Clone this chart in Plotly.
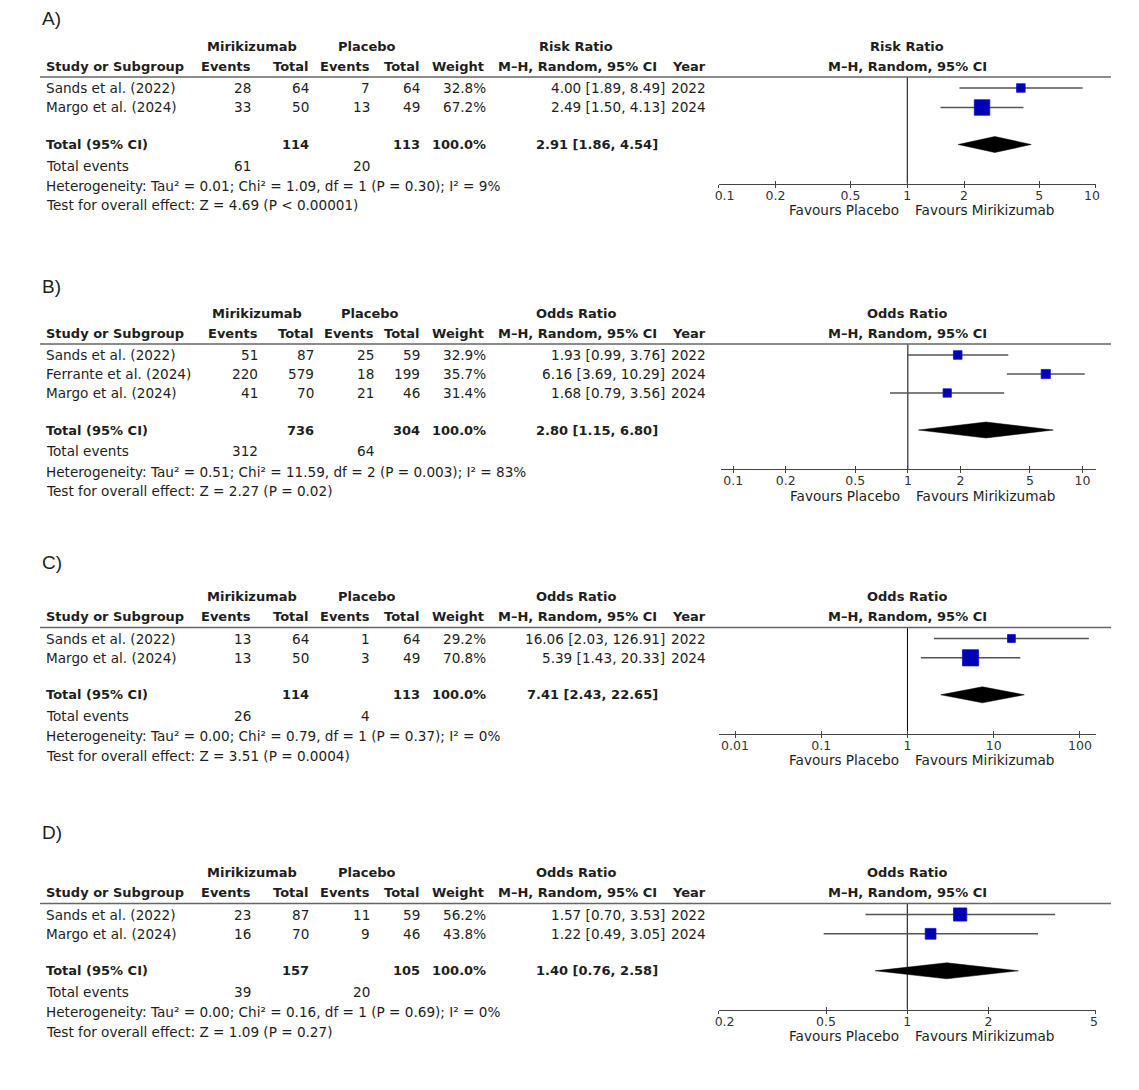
import plotly.graph_objects as go

# Geometry is written in the reference picture's pixels and mapped onto the page.
PAGE_OFF = 8                   # default body margin of the written page
PIC_X0, PIC_SX = 16.2, 0.9742  # observed page-x -> picture-x mapping
W, H = 1123, 1074
FONT = "DejaVu Sans"
TXT = "#1e1e1e"

# ---------------- Data: Panel A ----------------
A_label = "A)"
A_measure = "Risk Ratio"
A_study = ["Sands et al. (2022)", "Margo et al. (2024)"]
A_mir_ev = [28, 33]
A_mir_tot = [64, 50]
A_pla_ev = [7, 13]
A_pla_tot = [64, 49]
A_weight = [32.8, 67.2]
A_est = [4.00, 2.49]
A_lo = [1.89, 1.50]
A_hi = [8.49, 4.13]
A_year = [2022, 2024]
A_total_n = [114, 113]
A_total_ev = [61, 20]
A_pooled = [2.91, 1.86, 4.54]
A_het = "Heterogeneity: Tau² = 0.01; Chi² = 1.09, df = 1 (P = 0.30); I² = 9%"
A_test = "Test for overall effect: Z = 4.69 (P < 0.00001)"
A_ticks = [0.1, 0.2, 0.5, 1, 2, 5, 10]
A_tick_text = ["0.1", "0.2", "0.5", "1", "2", "5", "10"]

# ---------------- Data: Panel B ----------------
B_label = "B)"
B_measure = "Odds Ratio"
B_study = ["Sands et al. (2022)", "Ferrante et al. (2024)", "Margo et al. (2024)"]
B_mir_ev = [51, 220, 41]
B_mir_tot = [87, 579, 70]
B_pla_ev = [25, 18, 21]
B_pla_tot = [59, 199, 46]
B_weight = [32.9, 35.7, 31.4]
B_est = [1.93, 6.16, 1.68]
B_lo = [0.99, 3.69, 0.79]
B_hi = [3.76, 10.29, 3.56]
B_year = [2022, 2024, 2024]
B_total_n = [736, 304]
B_total_ev = [312, 64]
B_pooled = [2.80, 1.15, 6.80]
B_het = "Heterogeneity: Tau² = 0.51; Chi² = 11.59, df = 2 (P = 0.003); I² = 83%"
B_test = "Test for overall effect: Z = 2.27 (P = 0.02)"
B_ticks = [0.1, 0.2, 0.5, 1, 2, 5, 10]
B_tick_text = ["0.1", "0.2", "0.5", "1", "2", "5", "10"]

# ---------------- Data: Panel C ----------------
C_label = "C)"
C_measure = "Odds Ratio"
C_study = ["Sands et al. (2022)", "Margo et al. (2024)"]
C_mir_ev = [13, 13]
C_mir_tot = [64, 50]
C_pla_ev = [1, 3]
C_pla_tot = [64, 49]
C_weight = [29.2, 70.8]
C_est = [16.06, 5.39]
C_lo = [2.03, 1.43]
C_hi = [126.91, 20.33]
C_year = [2022, 2024]
C_total_n = [114, 113]
C_total_ev = [26, 4]
C_pooled = [7.41, 2.43, 22.65]
C_het = "Heterogeneity: Tau² = 0.00; Chi² = 0.79, df = 1 (P = 0.37); I² = 0%"
C_test = "Test for overall effect: Z = 3.51 (P = 0.0004)"
C_ticks = [0.01, 0.1, 1, 10, 100]
C_tick_text = ["0.01", "0.1", "1", "10", "100"]

# ---------------- Data: Panel D ----------------
D_label = "D)"
D_measure = "Odds Ratio"
D_study = ["Sands et al. (2022)", "Margo et al. (2024)"]
D_mir_ev = [23, 16]
D_mir_tot = [87, 70]
D_pla_ev = [11, 9]
D_pla_tot = [59, 46]
D_weight = [56.2, 43.8]
D_est = [1.57, 1.22]
D_lo = [0.70, 0.49]
D_hi = [3.53, 3.05]
D_year = [2022, 2024]
D_total_n = [157, 105]
D_total_ev = [39, 20]
D_pooled = [1.40, 0.76, 2.58]
D_het = "Heterogeneity: Tau² = 0.00; Chi² = 0.16, df = 1 (P = 0.69); I² = 0%"
D_test = "Test for overall effect: Z = 1.09 (P = 0.27)"
D_ticks = [0.2, 0.5, 1, 2, 5]
D_tick_text = ["0.2", "0.5", "1", "2", "5"]

panels = [
    dict(label=A_label, measure=A_measure, study=A_study, mir_ev=A_mir_ev, mir_tot=A_mir_tot,
         pla_ev=A_pla_ev, pla_tot=A_pla_tot, weight=A_weight, est=A_est, lo=A_lo, hi=A_hi,
         year=A_year, total_n=A_total_n, total_ev=A_total_ev, pooled=A_pooled, het=A_het,
         test=A_test, ticks=A_ticks, tick_text=A_tick_text),
    dict(label=B_label, measure=B_measure, study=B_study, mir_ev=B_mir_ev, mir_tot=B_mir_tot,
         pla_ev=B_pla_ev, pla_tot=B_pla_tot, weight=B_weight, est=B_est, lo=B_lo, hi=B_hi,
         year=B_year, total_n=B_total_n, total_ev=B_total_ev, pooled=B_pooled, het=B_het,
         test=B_test, ticks=B_ticks, tick_text=B_tick_text),
    dict(label=C_label, measure=C_measure, study=C_study, mir_ev=C_mir_ev, mir_tot=C_mir_tot,
         pla_ev=C_pla_ev, pla_tot=C_pla_tot, weight=C_weight, est=C_est, lo=C_lo, hi=C_hi,
         year=C_year, total_n=C_total_n, total_ev=C_total_ev, pooled=C_pooled, het=C_het,
         test=C_test, ticks=C_ticks, tick_text=C_tick_text),
    dict(label=D_label, measure=D_measure, study=D_study, mir_ev=D_mir_ev, mir_tot=D_mir_tot,
         pla_ev=D_pla_ev, pla_tot=D_pla_tot, weight=D_weight, est=D_est, lo=D_lo, hi=D_hi,
         year=D_year, total_n=D_total_n, total_ev=D_total_ev, pooled=D_pooled, het=D_het,
         test=D_test, ticks=D_ticks, tick_text=D_tick_text),
]

# ---------------- Layout (picture-pixel geometry, styles) ----------------
geo = [
    dict(label_y=18, first=88, step=19.5, xr=(-1.0, 1.0), dom=(718, 1095), cols="std", pad=("l", "r")),
    dict(label_y=286, first=355, step=19.0, xr=(-1.072, 1.077), dom=(720, 1095), cols="wide", pad=(None, None)),
    dict(label_y=562, first=638.5, step=19.3, xr=(-2.19, 2.186), dom=(718, 1095), cols="std", pad=(None, None)),
    dict(label_y=832, first=914.5, step=19.3, xr=(-0.69897, 0.69897), dom=(718, 1095), cols="std", pad=("l", "r")),
]
COLS = {
    "std": dict(mir_ev=253, mir_tot=311, pla_ev=372, pla_tot=421.5, mir_c=252, pla_c=367),
    "wide": dict(mir_ev=260, mir_tot=315.5, pla_ev=376, pla_tot=422, mir_c=257, pla_c=370),
}
FS = 13.6
FSB = 13
BLUE = "#0000B4"
GREY = "#555555"


def px(x):
    page_x = (x - PIC_X0) / PIC_SX
    return (page_x - PAGE_OFF) / W


def py(y):
    return 1 - (y - PAGE_OFF) / H


fig = go.Figure()
annotations = []
shapes = []


def txt(x, y, s, anchor="left", bold=False, size=None, color=TXT, family=FONT):
    if size is None:
        size = FSB if bold else FS
    if bold:
        s = "<b>" + s + "</b>"
    annotations.append(dict(x=px(x), y=py(y), xref="paper", yref="paper", text=s,
                            showarrow=False, xanchor=anchor, yanchor="middle",
                            font=dict(family=family, size=size, color=color)))


for k, (p, g) in enumerate(zip(panels, geo)):
    c = COLS[g["cols"]]
    n = len(p["study"])
    first = g["first"]
    rows = [first + g["step"] * i for i in range(n)]
    total_y = rows[-1] + 37
    tev_y = total_y + 21.5
    het_y = total_y + 41.5
    test_y = total_y + 61
    axis_y = total_y + 39
    h1 = first - 42
    h2 = first - 22
    line_y = first - 11

    # panel label
    txt(40, g["label_y"], p["label"], size=19, color="#222222", family="Liberation Sans")
    # headers
    txt(c["mir_c"], h1, "Mirikizumab", "center", True)
    txt(c["pla_c"], h1, "Placebo", "center", True)
    txt(576, h1, p["measure"], "center", True)
    txt(906.5, h1, p["measure"], "center", True)
    txt(44, h2, "Study or Subgroup", "left", True)
    txt(c["mir_ev"], h2, "Events", "right", True)
    txt(c["mir_tot"], h2, "Total", "right", True)
    txt(c["pla_ev"], h2, "Events", "right", True)
    txt(c["pla_tot"], h2, "Total", "right", True)
    txt(485.5, h2, "Weight", "right", True)
    txt(577, h2, "M\u2013H, Random, 95% CI", "center", True)
    txt(707, h2, "Year", "right", True)
    txt(906.5, h2, "M\u2013H, Random, 95% CI", "center", True)
    shapes.append(dict(type="line", xref="paper", yref="paper", x0=px(40), x1=px(1110),
                       y0=py(line_y), y1=py(line_y), line=dict(color="#666666", width=1.5)))

    # study rows
    for i in range(n):
        y = rows[i]
        txt(44, y, p["study"][i])
        txt(c["mir_ev"], y, str(p["mir_ev"][i]), "right")
        txt(c["mir_tot"], y, str(p["mir_tot"][i]), "right")
        txt(c["pla_ev"], y, str(p["pla_ev"][i]), "right")
        txt(c["pla_tot"], y, str(p["pla_tot"][i]), "right")
        txt(487.5, y, f"{p['weight'][i]:.1f}%", "right")
        txt(666.5, y, f"{p['est'][i]:.2f} [{p['lo'][i]:.2f}, {p['hi'][i]:.2f}]", "right")
        txt(707, y, str(p["year"][i]), "right")
    # total row
    txt(44, total_y, "Total (95% CI)", "left", True)
    txt(c["mir_tot"], total_y, str(p["total_n"][0]), "right", True)
    txt(c["pla_tot"], total_y, str(p["total_n"][1]), "right", True)
    txt(487.5, total_y, f"{sum(p['weight']):.1f}%", "right", True)
    pe, pl, ph = p["pooled"]
    txt(659, total_y, f"{pe:.2f} [{pl:.2f}, {ph:.2f}]", "right", True)
    txt(44, tev_y, "Total events")
    txt(c["mir_ev"], tev_y, str(p["total_ev"][0]), "right")
    txt(c["pla_ev"], tev_y, str(p["total_ev"][1]), "right")
    txt(44, het_y, p["het"])
    txt(44, test_y, p["test"])

    # ---- forest plot axes ----
    xa = "x" if k == 0 else f"x{k + 1}"
    ya = "y" if k == 0 else f"y{k + 1}"
    xo = f"x{k + 5}"
    ticktext = list(p["tick_text"])
    if g["pad"][0] == "l":
        ticktext[0] = "\u00a0" * 3 + ticktext[0]
    if g["pad"][1] == "r":
        ticktext[-1] = ticktext[-1] + "\u00a0" * (2 if len(ticktext[-1]) > 1 else 1)

    # null line
    fig.add_trace(go.Scatter(x=[1, 1], y=[axis_y, line_y], mode="lines",
                             line=dict(color="#000000", width=1), xaxis=xa, yaxis=ya,
                             hoverinfo="skip", showlegend=False))
    # CI lines
    cx, cy = [], []
    for i in range(n):
        cx += [p["lo"][i], p["hi"][i], None]
        cy += [rows[i], rows[i], None]
    fig.add_trace(go.Scatter(x=cx, y=cy, mode="lines", line=dict(color=GREY, width=1.5),
                             xaxis=xa, yaxis=ya, hoverinfo="skip", showlegend=False))
    # boxes (side length scales with study weight)
    fig.add_trace(go.Scatter(x=p["est"], y=rows, mode="markers", opacity=1,
                             marker=dict(symbol="square", color=BLUE, opacity=1,
                                         size=[2 + 0.2 * w for w in p["weight"]],
                                         line=dict(color="#1010C8", width=0.8)),
                             xaxis=xa, yaxis=ya, hoverinfo="skip", showlegend=False))
    # pooled diamond
    fig.add_trace(go.Scatter(x=[pl, pe, ph, pe, pl], y=[total_y, total_y - 8, total_y, total_y + 8, total_y],
                             mode="lines", fill="toself", fillcolor="#000000",
                             line=dict(color="#000000", width=0.5),
                             xaxis=xa, yaxis=ya, hoverinfo="skip", showlegend=False))
    # invisible trace so the overlay axis (downward tick marks) is drawn
    fig.add_trace(go.Scatter(x=[1], y=[axis_y], mode="markers", marker=dict(opacity=0),
                             xaxis=xo, yaxis=ya, hoverinfo="skip", showlegend=False))

    axis_common = dict(type="log", range=list(g["xr"]), showgrid=False, zeroline=False,
                       tickmode="array", tickvals=p["ticks"], fixedrange=True)
    fig.layout[("xaxis" if k == 0 else f"xaxis{k + 1}")] = dict(
        **axis_common, domain=[px(g["dom"][0]), px(g["dom"][1])], anchor=ya,
        showline=True, linecolor="#444444", linewidth=1,
        ticks="inside", ticklen=3, tickwidth=1, tickcolor="#444444",
        ticktext=ticktext, tickfont=dict(family=FONT, size=12.5, color="#333333"))
    fig.layout[f"xaxis{k + 5}"] = dict(
        **axis_common, overlaying=xa, anchor=ya, showline=False,
        ticks="outside", ticklen=3, tickwidth=1, tickcolor="#444444", showticklabels=False)
    fig.layout[("yaxis" if k == 0 else f"yaxis{k + 1}")] = dict(
        domain=[py(axis_y), py(line_y)], range=[axis_y, line_y], visible=False,
        anchor=xa, fixedrange=True)

    # favours labels
    for label, anc, sh in (("Favours Placebo", "right", -6), ("Favours Mirikizumab", "left", 6)):
        annotations.append(dict(x=0, y=py(axis_y + 26.5), xref=xa, yref="paper", text=label,
                                showarrow=False, xanchor=anc, yanchor="middle", xshift=sh,
                                font=dict(family=FONT, size=FS, color=TXT)))

fig.update_layout(width=W, height=H, margin=dict(l=0, r=0, t=0, b=0),
                  paper_bgcolor="white", plot_bgcolor="white",
                  annotations=annotations, shapes=shapes, showlegend=False)
fig.write_html("out.html")
